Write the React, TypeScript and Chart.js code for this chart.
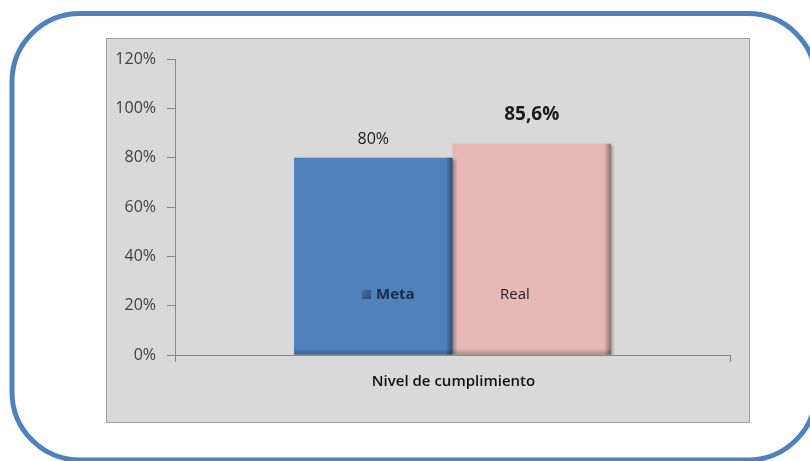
import React, { useEffect, useRef } from 'react';
import { Chart, registerables } from 'chart.js';

Chart.register(...registerables);

const categories = ['Nivel de cumplimiento'];
const seriesNames = ['Meta', 'Real'];
const metaValues = [80];
const realValues = [85.6];
const yTicks = [0, 20, 40, 60, 80, 100, 120];

const FONT = '"Open Sans", "Liberation Sans", sans-serif';
const BLUE = '#4f81bd';
const PINK = '#e6b9b8';

const fmt = (v: number) => String(v).replace('.', ',') + '%';

export default function App() {
  const ref = useRef<HTMLCanvasElement>(null);

  useEffect(() => {
    const canvas = ref.current!;

    const framePlugin = {
      id: 'frame',
      beforeDraw(chart: any) {
        const ctx = chart.ctx;
        ctx.save();
        ctx.fillStyle = '#ffffff';
        ctx.fillRect(0, 0, chart.width, chart.height);
        ctx.strokeStyle = BLUE;
        ctx.lineWidth = 5;
        ctx.beginPath();
        ctx.roundRect(12, 13.5, 804, 446.5, 68);
        ctx.stroke();
        ctx.fillStyle = '#d9d9d9';
        ctx.fillRect(106, 38, 644, 385);
        ctx.strokeStyle = '#a0a0a0';
        ctx.lineWidth = 1;
        ctx.strokeRect(106.5, 38.5, 643, 384);
        ctx.restore();
      },
    };

    const shadowPlugin = {
      id: 'barShadow',
      beforeDatasetDraw(chart: any) {
        const ctx = chart.ctx;
        ctx.save();
        ctx.shadowColor = 'rgba(0,0,0,0.35)';
        ctx.shadowBlur = 3;
        ctx.shadowOffsetX = 2;
        ctx.shadowOffsetY = 1;
      },
      afterDatasetDraw(chart: any, args: any) {
        const ctx = chart.ctx;
        ctx.restore();
        const meta = chart.getDatasetMeta(args.index);
        meta.data.forEach((el: any) => {
          const right = el.x + el.width / 2;
          const g = ctx.createLinearGradient(right - 7, 0, right, 0);
          g.addColorStop(0, 'rgba(0,0,0,0)');
          g.addColorStop(1, 'rgba(0,0,0,0.4)');
          ctx.save();
          ctx.fillStyle = g;
          ctx.fillRect(right - 7, el.y, 7, el.base - el.y);
          const gb = ctx.createLinearGradient(0, el.base - 6, 0, el.base);
          gb.addColorStop(0, 'rgba(0,0,0,0)');
          gb.addColorStop(1, 'rgba(0,0,0,0.25)');
          ctx.fillStyle = gb;
          ctx.fillRect(el.x - el.width / 2, el.base - 6, el.width, 6);
          ctx.restore();
        });
      },
    };

    const labelPlugin = {
      id: 'labels',
      afterDatasetsDraw(chart: any) {
        const ctx = chart.ctx;
        ctx.save();
        ctx.textAlign = 'center';
        ctx.textBaseline = 'middle';
        const styles = [
          { font: `16px ${FONT}`, off: 18 },
          { font: `bold 19px ${FONT}`, off: 29 },
        ];
        chart.data.datasets.forEach((ds: any, i: number) => {
          const meta = chart.getDatasetMeta(i);
          meta.data.forEach((el: any, j: number) => {
            ctx.font = styles[i].font;
            ctx.fillStyle = '#1a1a1a';
            ctx.fillText(fmt(ds.data[j]), el.x, el.y - styles[i].off);
          });
        });
        // axis title
        const xs = chart.scales.x;
        ctx.font = `600 15px ${FONT}`;
        ctx.fillStyle = '#111111';
        ctx.fillText(categories[0], (xs.left + xs.right) / 2 + 1, 382);
        // legend
        ctx.textAlign = 'left';
        const sq = ctx.createLinearGradient(362, 290, 371, 299);
        sq.addColorStop(0, '#4a6fa5');
        sq.addColorStop(1, '#2c4a78');
        ctx.fillStyle = sq;
        ctx.fillRect(362, 290, 9, 9);
        ctx.font = `bold 15px ${FONT}`;
        ctx.fillStyle = '#1c2a48';
        ctx.fillText(seriesNames[0], 376, 295);
        ctx.font = `15px ${FONT}`;
        ctx.fillStyle = '#2a1c1c';
        ctx.fillText(seriesNames[1], 500, 295);
        ctx.restore();
      },
    };

    const chart = new Chart(canvas, {
      type: 'bar',
      data: {
        labels: categories,
        datasets: [
          { label: seriesNames[0], data: metaValues, backgroundColor: BLUE, borderWidth: 0 },
          { label: seriesNames[1], data: realValues, backgroundColor: PINK, borderWidth: 0 },
        ],
      },
      options: {
        responsive: false,
        animation: false,
        events: [],
        categoryPercentage: 0.571,
        barPercentage: 1,
        layout: { padding: { left: 0, top: 59, right: 80, bottom: 98 } },
        plugins: {
          legend: { display: false },
          tooltip: { enabled: false },
        },
        scales: {
          x: {
            ticks: { display: false },
            grid: {
              offset: true,
              drawOnChartArea: false,
              drawTicks: true,
              tickLength: 7,
              color: '#868686',
            },
            border: { display: true, color: '#868686', width: 1 },
            afterFit(axis: any) {
              axis.height = 8;
            },
          },
          y: {
            min: 0,
            max: 120,
            afterBuildTicks(axis: any) {
              axis.ticks = yTicks.map((v) => ({ value: v }));
            },
            ticks: {
              padding: 11,
              color: '#404040',
              font: { family: FONT, size: 16 },
              callback: (v: any) => v + '%',
            },
            grid: {
              drawOnChartArea: false,
              drawTicks: true,
              tickLength: 8,
              color: '#868686',
            },
            border: { display: true, color: '#868686', width: 1 },
            afterFit(axis: any) {
              axis.width = 175;
            },
          },
        },
      },
      plugins: [framePlugin, shadowPlugin, labelPlugin],
    } as any);

    return () => chart.destroy();
  }, []);

  return (
    <canvas
      ref={ref}
      width={810}
      height={461}
      style={{ position: 'fixed', left: 0, top: 0, width: 810, height: 461 }}
    />
  );
}
